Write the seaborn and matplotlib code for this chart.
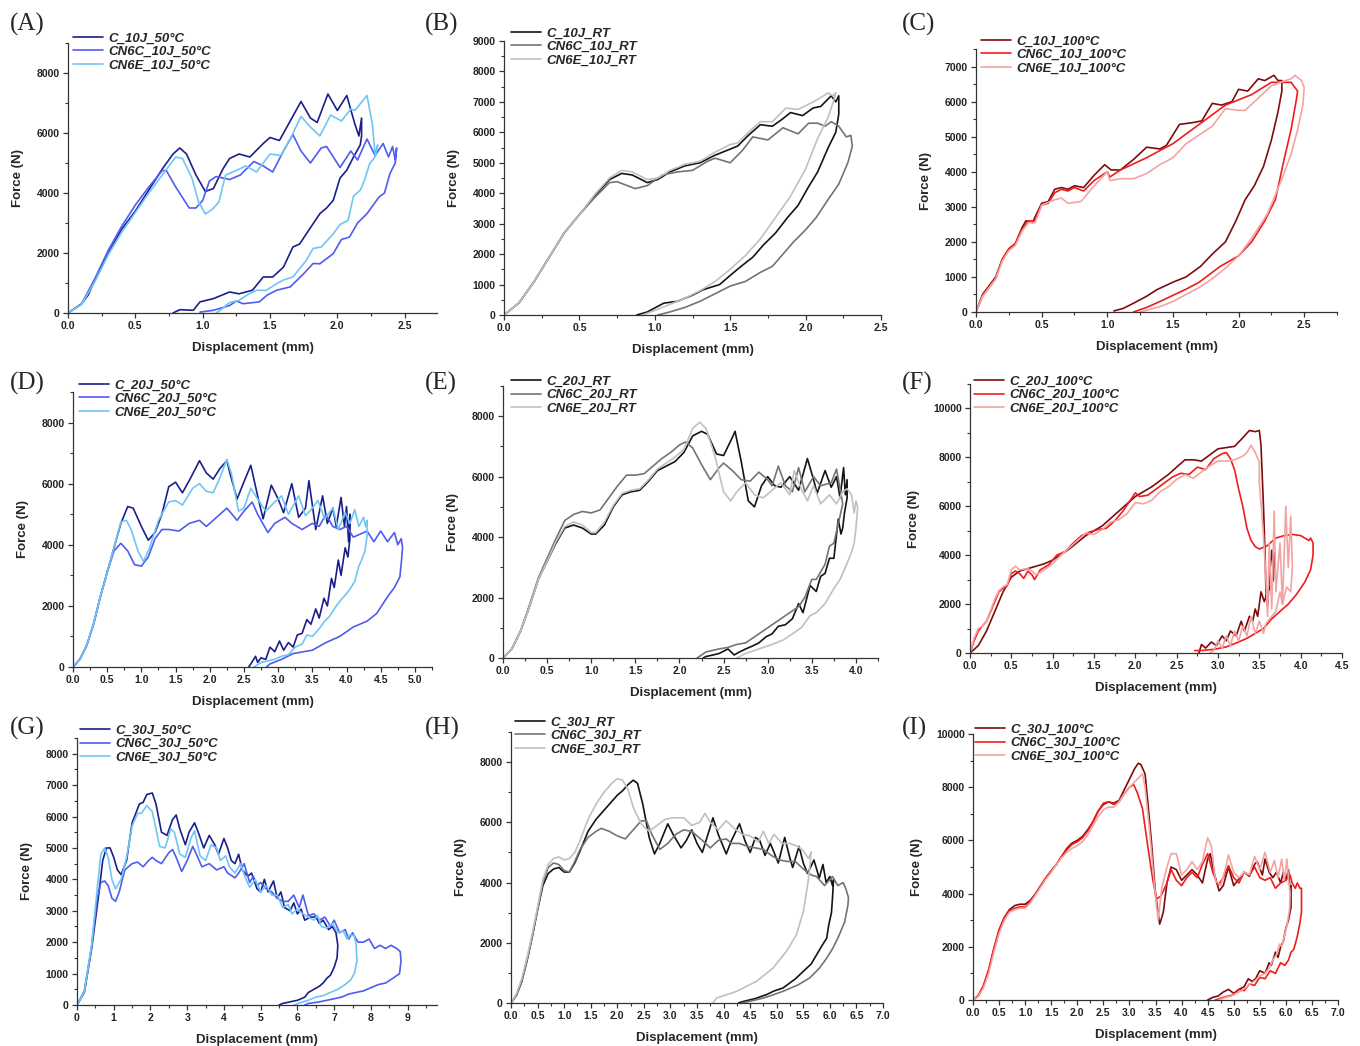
import matplotlib
matplotlib.use("Agg")
import matplotlib.pyplot as plt
import seaborn as sns
import pandas as pd
from matplotlib.ticker import MultipleLocator, AutoMinorLocator

# ===== DATA (displacement mm, force N) =====
# (A) 10 J, 50 C
C_10J_50 = [(0, 0), (0.1, 300), (0.15, 600), (0.2, 1100), (0.3, 2000), (0.4, 2800), (0.5, 3400), (0.6, 4100),
            (0.7, 4800), (0.78, 5300), (0.83, 5500), (0.88, 5300), (0.95, 4600), (1.02, 4050), (1.08, 4150),
            (1.15, 4800), (1.2, 5150), (1.27, 5300), (1.35, 5200), (1.45, 5650), (1.5, 5850), (1.57, 5750),
            (1.65, 6400), (1.73, 7050), (1.8, 6500), (1.85, 6350), (1.93, 7300), (2.0, 6750), (2.07, 7250),
            (2.13, 6300), (2.16, 5900), (2.18, 6500), (2.18, 5900), (2.17, 5600), (2.12, 5200), (2.07, 4760),
            (2.02, 4500), (1.97, 3760), (1.92, 3500), (1.87, 3310), (1.77, 2640), (1.72, 2300), (1.67, 2200),
            (1.6, 1530), (1.52, 1200), (1.45, 1200), (1.37, 760), (1.27, 640), (1.2, 700), (1.08, 480),
            (0.98, 370), (0.93, 90), (0.83, 110), (0.78, 0)]
CN6C_10J_50 = [(0, 0), (0.1, 300), (0.2, 1150), (0.3, 2100), (0.4, 2900), (0.5, 3600), (0.6, 4200), (0.7, 4750),
               (0.73, 4750), (0.8, 4200), (0.9, 3500), (0.95, 3500), (1.0, 3750), (1.05, 4400), (1.1, 4550),
               (1.2, 4450), (1.28, 4600), (1.38, 5050), (1.45, 4900), (1.52, 4700), (1.6, 5400), (1.67, 5950),
               (1.73, 5400), (1.8, 5000), (1.88, 5500), (1.92, 5550), (2.02, 4850), (2.1, 5400), (2.15, 5100),
               (2.22, 5800), (2.28, 5250), (2.34, 5650), (2.38, 5200), (2.41, 5550), (2.43, 5100), (2.44, 5500),
               (2.43, 5000), (2.39, 4640), (2.35, 4000), (2.31, 3870), (2.22, 3310), (2.15, 3000), (2.09, 2530),
               (2.03, 2450), (1.97, 1980), (1.87, 1640), (1.82, 1650), (1.75, 1310), (1.65, 870), (1.55, 760),
               (1.48, 600), (1.42, 370), (1.3, 310), (1.25, 400), (1.2, 250), (1.08, 90), (0.98, 30)]
CN6E_10J_50 = [(0, 0), (0.1, 280), (0.2, 1050), (0.3, 1950), (0.4, 2700), (0.5, 3350), (0.6, 4000), (0.7, 4600),
               (0.8, 5200), (0.85, 5150), (0.92, 4500), (0.97, 3700), (1.02, 3300), (1.07, 3450), (1.12, 3700),
               (1.17, 4600), (1.25, 4750), (1.32, 4900), (1.4, 4700), (1.5, 5300), (1.58, 5250), (1.65, 5800),
               (1.73, 6550), (1.8, 6200), (1.87, 5900), (1.95, 6600), (2.03, 6400), (2.1, 6800), (2.13, 6750),
               (2.22, 7250), (2.26, 6300), (2.28, 5300), (2.3, 5600), (2.28, 5200), (2.24, 4980), (2.2, 4400),
               (2.17, 4090), (2.12, 3900), (2.08, 3090), (2.02, 2950), (1.97, 2640), (1.88, 2200), (1.82, 2150),
               (1.77, 1760), (1.67, 1200), (1.6, 1100), (1.55, 980), (1.47, 750), (1.4, 760), (1.33, 600),
               (1.27, 420), (1.2, 350), (1.13, 90), (1.1, 0)]

# (B) 10 J, RT
C_10J_RT = [(0, 0), (0.1, 400), (0.2, 1100), (0.3, 1900), (0.4, 2700), (0.5, 3300), (0.6, 3900), (0.7, 4450),
            (0.78, 4650), (0.85, 4600), (0.95, 4350), (1.02, 4450), (1.1, 4700), (1.2, 4900), (1.3, 5000),
            (1.4, 5250), (1.5, 5450), (1.55, 5550), (1.62, 5900), (1.7, 6250), (1.78, 6200), (1.85, 6450),
            (1.9, 6650), (1.98, 6550), (2.05, 6800), (2.1, 6850), (2.17, 7200), (2.2, 7000), (2.22, 7200),
            (2.22, 6600), (2.2, 6000), (2.15, 5500), (2.08, 4700), (2.02, 4215), (1.95, 3600), (1.88, 3200),
            (1.8, 2690), (1.72, 2300), (1.65, 1900), (1.57, 1590), (1.5, 1300), (1.43, 1000), (1.32, 830),
            (1.25, 650), (1.15, 450), (1.06, 390), (0.95, 100), (0.88, 0)]
CN6C_10J_RT = [(0, 0), (0.1, 400), (0.2, 1100), (0.3, 1900), (0.4, 2700), (0.5, 3300), (0.6, 3850), (0.7, 4350),
               (0.75, 4380), (0.87, 4150), (0.95, 4250), (1.05, 4600), (1.15, 4700), (1.25, 4750), (1.35, 5050),
               (1.4, 5150), (1.5, 5000), (1.58, 5400), (1.65, 5850), (1.75, 5750), (1.85, 6150), (1.95, 5950),
               (2.02, 6300), (2.08, 6300), (2.13, 6200), (2.17, 6350), (2.22, 6200), (2.27, 5850), (2.3, 5900),
               (2.31, 5550), (2.28, 5000), (2.22, 4300), (2.15, 3800), (2.07, 3200), (2.0, 2800), (1.92, 2400),
               (1.85, 2000), (1.78, 1600), (1.7, 1400), (1.6, 1100), (1.5, 950), (1.4, 700), (1.3, 450),
               (1.2, 250), (1.1, 100), (1.02, 0)]
CN6E_10J_RT = [(0, 0), (0.1, 400), (0.2, 1100), (0.3, 1900), (0.4, 2700), (0.5, 3300), (0.6, 3950), (0.7, 4500),
               (0.78, 4750), (0.85, 4700), (0.95, 4450), (1.02, 4500), (1.1, 4750), (1.2, 4950), (1.3, 5050),
               (1.4, 5350), (1.5, 5600), (1.55, 5650), (1.62, 6000), (1.7, 6350), (1.78, 6350), (1.87, 6800),
               (1.95, 6750), (2.05, 7000), (2.12, 7200), (2.15, 7300), (2.18, 7200), (2.2, 7300), (2.19, 7100),
               (2.15, 6500), (2.08, 5800), (2.0, 4800), (1.9, 3900), (1.8, 3200), (1.7, 2500), (1.6, 1950),
               (1.5, 1500), (1.4, 1100), (1.3, 800), (1.2, 550), (1.1, 350), (1.0, 150), (0.92, 0)]

# (C) 10 J, 100 C
C_10J_100 = [(0, 0), (0.05, 500), (0.1, 750), (0.15, 1000), (0.2, 1500), (0.25, 1800), (0.3, 1950), (0.35, 2400),
             (0.38, 2600), (0.43, 2550), (0.5, 3100), (0.55, 3150), (0.6, 3500), (0.65, 3550), (0.7, 3500),
             (0.75, 3600), (0.82, 3550), (0.9, 3900), (0.98, 4200), (1.03, 4050), (1.1, 4050), (1.2, 4350),
             (1.3, 4700), (1.4, 4650), (1.45, 4750), (1.5, 5050), (1.55, 5350), (1.65, 5400), (1.72, 5450),
             (1.8, 5950), (1.87, 5900), (1.95, 6000), (2.0, 6350), (2.07, 6300), (2.15, 6650), (2.2, 6600),
             (2.27, 6750), (2.3, 6600), (2.33, 6600), (2.33, 6300), (2.3, 5700), (2.25, 4900), (2.19, 4150),
             (2.12, 3600), (2.05, 3200), (1.98, 2600), (1.9, 2000), (1.8, 1650), (1.71, 1300), (1.6, 1000),
             (1.5, 850), (1.38, 640), (1.3, 450), (1.2, 250), (1.12, 100), (1.05, 30)]
CN6C_10J_100 = [(0, 0), (0.05, 450), (0.1, 700), (0.15, 950), (0.2, 1500), (0.25, 1800), (0.3, 1950), (0.35, 2350),
                (0.4, 2600), (0.45, 2600), (0.5, 3050), (0.55, 3100), (0.6, 3400), (0.65, 3500), (0.7, 3450),
                (0.75, 3550), (0.82, 3450), (0.9, 3750), (1.0, 4000), (1.02, 3850), (1.1, 4050), (1.3, 4400),
                (1.5, 4800), (1.7, 5350), (1.9, 5900), (2.1, 6200), (2.25, 6550), (2.35, 6550), (2.4, 6550),
                (2.45, 6300), (2.44, 6050), (2.4, 5200), (2.35, 4400), (2.28, 3200), (2.2, 2600), (2.1, 2000),
                (2.0, 1600), (1.86, 1300), (1.7, 850), (1.6, 650), (1.43, 350), (1.3, 130), (1.2, 0)]
CN6E_10J_100 = [(0, 0), (0.05, 450), (0.1, 700), (0.15, 950), (0.2, 1450), (0.25, 1750), (0.3, 1900), (0.35, 2300),
                (0.4, 2550), (0.45, 2550), (0.5, 3050), (0.6, 3200), (0.65, 3250), (0.7, 3100), (0.8, 3150),
                (0.9, 3600), (1.0, 4000), (1.02, 3750), (1.1, 3800), (1.2, 3800), (1.3, 3950), (1.4, 4200),
                (1.5, 4400), (1.6, 4800), (1.7, 5050), (1.8, 5300), (1.9, 5800), (2.0, 5750), (2.05, 5750),
                (2.15, 6100), (2.25, 6450), (2.32, 6550), (2.4, 6650), (2.43, 6750), (2.48, 6600), (2.5, 6400),
                (2.49, 5900), (2.45, 5200), (2.4, 4500), (2.32, 3700), (2.22, 2800), (2.1, 2100), (2.0, 1600),
                (1.9, 1250), (1.8, 950), (1.7, 700), (1.6, 500), (1.5, 300), (1.4, 150), (1.3, 50), (1.25, 0)]

# (D) 20 J, 50 C
C_20J_50 = [(0, 0), (0.1, 250), (0.2, 700), (0.3, 1400), (0.4, 2300), (0.5, 3100), (0.6, 3900), (0.7, 4700),
            (0.8, 5250), (0.88, 5200), (1.0, 4600), (1.1, 4150), (1.2, 4400), (1.3, 5000), (1.4, 5900),
            (1.5, 6050), (1.6, 5700), (1.7, 6100), (1.85, 6750), (1.95, 6350), (2.05, 6150), (2.15, 6500),
            (2.25, 6750), (2.3, 6300), (2.4, 5500), (2.48, 5950), (2.6, 6600), (2.7, 5600), (2.78, 4850),
            (2.9, 5950), (3.0, 5500), (3.08, 5050), (3.2, 6000), (3.3, 4900), (3.4, 5200), (3.45, 6100),
            (3.55, 4500), (3.65, 5600), (3.72, 4700), (3.8, 5200), (3.85, 4600), (3.92, 5550), (3.97, 4600),
            (4.0, 5250), (4.03, 4100), (4.05, 5000), (4.05, 4200), (4.02, 3600), (3.98, 3900), (3.92, 3000),
            (3.88, 3500), (3.82, 2600), (3.78, 2900), (3.72, 2000), (3.67, 2250), (3.6, 1600), (3.55, 1900),
            (3.48, 1400), (3.42, 1550), (3.35, 1100), (3.28, 1050), (3.22, 650), (3.15, 800), (3.08, 550),
            (3.02, 850), (2.95, 500), (2.88, 650), (2.82, 250), (2.75, 300), (2.7, 150), (2.67, 350),
            (2.6, 100), (2.57, 0)]
CN6C_20J_50 = [(0, 0), (0.1, 250), (0.2, 700), (0.3, 1400), (0.4, 2300), (0.5, 3100), (0.6, 3800), (0.7, 4050),
               (0.8, 3800), (0.9, 3350), (1.0, 3300), (1.1, 3600), (1.2, 4200), (1.3, 4500), (1.4, 4500),
               (1.55, 4450), (1.7, 4700), (1.85, 4800), (1.95, 4600), (2.1, 4900), (2.25, 5200), (2.4, 4800),
               (2.5, 5100), (2.62, 5400), (2.7, 5000), (2.85, 4400), (2.95, 4700), (3.1, 4900), (3.2, 4700),
               (3.35, 4500), (3.5, 4700), (3.6, 4600), (3.7, 5000), (3.8, 4600), (3.9, 4500), (4.0, 4600),
               (4.1, 4250), (4.2, 4350), (4.3, 4450), (4.4, 4100), (4.5, 4450), (4.6, 4100), (4.7, 4400),
               (4.75, 4000), (4.8, 4200), (4.82, 3900), (4.8, 3400), (4.78, 2950), (4.7, 2600), (4.6, 2300),
               (4.44, 1750), (4.3, 1500), (4.1, 1310), (3.9, 1000), (3.7, 800), (3.5, 550), (3.22, 440),
               (3.05, 250), (2.88, 100), (2.83, 0)]
CN6E_20J_50 = [(0, 0), (0.1, 250), (0.2, 700), (0.3, 1400), (0.4, 2300), (0.5, 3100), (0.6, 3900), (0.7, 4750),
               (0.78, 4800), (0.85, 4500), (0.95, 3800), (1.03, 3450), (1.12, 3900), (1.25, 4800), (1.4, 5400),
               (1.5, 5450), (1.6, 5300), (1.75, 5850), (1.85, 6000), (1.95, 5750), (2.05, 5700), (2.15, 6200),
               (2.25, 6800), (2.32, 6300), (2.42, 5100), (2.5, 5200), (2.6, 5850), (2.7, 5500), (2.82, 5100),
               (2.95, 5400), (3.05, 5600), (3.15, 5000), (3.3, 5600), (3.4, 4950), (3.5, 5200), (3.58, 5450),
               (3.68, 4850), (3.8, 5200), (3.88, 4500), (3.98, 5050), (4.05, 4700), (4.12, 5150), (4.18, 4600),
               (4.25, 4900), (4.28, 4600), (4.3, 4800), (4.3, 4300), (4.27, 3800), (4.22, 3500), (4.18, 3300),
               (4.12, 2800), (4.05, 2550), (4.0, 2400), (3.92, 2200), (3.85, 2000), (3.75, 1650), (3.68, 1500),
               (3.6, 1250), (3.5, 1000), (3.42, 1050), (3.35, 750), (3.25, 650), (3.15, 400), (3.05, 350),
               (2.95, 250), (2.85, 200), (2.75, 150), (2.65, 0)]

# (E) 20 J, RT
C_20J_RT = [(0, 0), (0.1, 300), (0.2, 900), (0.3, 1700), (0.4, 2600), (0.5, 3200), (0.6, 3800), (0.7, 4300),
            (0.8, 4400), (0.9, 4300), (1.0, 4100), (1.05, 4100), (1.15, 4400), (1.25, 5000), (1.35, 5400),
            (1.45, 5500), (1.55, 5550), (1.65, 5850), (1.75, 6200), (1.85, 6350), (1.95, 6500), (2.05, 6800),
            (2.15, 7350), (2.25, 7500), (2.32, 7400), (2.42, 6750), (2.5, 6700), (2.6, 7300), (2.63, 7500),
            (2.7, 6500), (2.78, 5200), (2.85, 5000), (2.93, 5700), (3.0, 6000), (3.08, 5700), (3.15, 5650),
            (3.25, 6000), (3.35, 5550), (3.45, 6600), (3.52, 5900), (3.56, 5450), (3.65, 6200), (3.72, 5650),
            (3.78, 6000), (3.82, 5300), (3.86, 6300), (3.88, 5400), (3.9, 5900), (3.9, 5300), (3.87, 4800),
            (3.85, 4300), (3.83, 4100), (3.8, 4600), (3.75, 3300), (3.7, 3300), (3.65, 2800), (3.6, 2700),
            (3.55, 2200), (3.48, 2400), (3.4, 1500), (3.35, 1800), (3.28, 1300), (3.2, 1100), (3.12, 1050),
            (3.05, 800), (2.98, 700), (2.9, 500), (2.83, 400), (2.75, 300), (2.68, 200), (2.62, 100),
            (2.55, 300), (2.45, 150), (2.38, 100), (2.3, 50), (2.27, 0)]
CN6C_20J_RT = [(0, 0), (0.1, 300), (0.2, 900), (0.3, 1750), (0.4, 2650), (0.5, 3300), (0.6, 3950), (0.7, 4550),
               (0.8, 4750), (0.9, 4850), (1.0, 4800), (1.1, 4900), (1.2, 5300), (1.3, 5700), (1.4, 6050),
               (1.5, 6050), (1.6, 6100), (1.7, 6350), (1.8, 6600), (1.9, 6800), (2.0, 7050), (2.07, 7150),
               (2.15, 6950), (2.25, 6400), (2.35, 5900), (2.45, 6300), (2.5, 6450), (2.6, 6200), (2.7, 5900),
               (2.8, 5850), (2.9, 6150), (3.0, 5900), (3.05, 5700), (3.12, 6350), (3.2, 5700), (3.28, 5500),
               (3.35, 6300), (3.42, 5500), (3.52, 6000), (3.6, 5700), (3.72, 5800), (3.78, 6250), (3.82, 5600),
               (3.85, 5100), (3.82, 4700), (3.75, 3800), (3.7, 3700), (3.65, 3100), (3.55, 2600), (3.5, 2600),
               (3.42, 2000), (3.35, 1700), (3.25, 1500), (3.15, 1300), (3.05, 1100), (2.95, 900), (2.85, 700),
               (2.75, 500), (2.65, 450), (2.55, 350), (2.45, 300), (2.3, 200), (2.2, 0)]
CN6E_20J_RT = [(0, 0), (0.1, 300), (0.2, 900), (0.3, 1700), (0.4, 2600), (0.5, 3200), (0.6, 3850), (0.7, 4350),
               (0.8, 4500), (0.9, 4400), (1.0, 4150), (1.05, 4150), (1.15, 4500), (1.25, 5050), (1.35, 5450),
               (1.45, 5550), (1.55, 5600), (1.65, 5900), (1.75, 6250), (1.85, 6450), (1.95, 6650), (2.05, 6900),
               (2.15, 7600), (2.23, 7800), (2.3, 7600), (2.4, 6700), (2.5, 5500), (2.58, 5200), (2.65, 5500),
               (2.75, 5800), (2.85, 5400), (2.95, 5300), (3.05, 5550), (3.15, 5800), (3.25, 5400), (3.3, 6200),
               (3.38, 5600), (3.45, 5200), (3.52, 5700), (3.6, 5100), (3.7, 5400), (3.78, 5100), (3.85, 5500),
               (3.9, 5600), (3.95, 5400), (3.98, 4800), (4.0, 5200), (4.02, 5000), (4.0, 4300), (3.98, 3800),
               (3.95, 3500), (3.88, 3000), (3.82, 2600), (3.75, 2300), (3.65, 1800), (3.55, 1500), (3.48, 1400),
               (3.38, 1000), (3.28, 800), (3.18, 600), (3.05, 450), (2.95, 350), (2.85, 250), (2.75, 150),
               (2.65, 0)]

# (F) 20 J, 100 C
C_20J_100 = [(0, 0), (0.1, 300), (0.2, 900), (0.3, 1700), (0.4, 2500), (0.5, 3100), (0.6, 3350), (0.7, 3450),
             (0.8, 3550), (0.9, 3650), (1.0, 3800), (1.2, 4250), (1.4, 4800), (1.6, 5200), (1.8, 5800),
             (2.0, 6400), (2.2, 6800), (2.4, 7300), (2.5, 7600), (2.6, 7900), (2.7, 7900), (2.8, 7850),
             (2.9, 8100), (3.0, 8350), (3.1, 8400), (3.2, 8450), (3.3, 8800), (3.38, 9100), (3.45, 9050),
             (3.5, 9100), (3.52, 8500), (3.55, 6000), (3.57, 4000), (3.58, 2500), (3.6, 1900), (3.62, 3000),
             (3.65, 4200), (3.67, 3500), (3.68, 4100), (3.67, 3000), (3.63, 2700), (3.6, 2500), (3.56, 2100),
             (3.52, 2500), (3.48, 1500), (3.45, 1800), (3.42, 1300), (3.38, 1500), (3.32, 900), (3.28, 1300),
             (3.22, 700), (3.15, 900), (3.1, 500), (3.05, 700), (2.98, 300), (2.92, 450), (2.85, 200),
             (2.8, 350), (2.77, 0)]
CN6C_20J_100 = [(0, 0), (0.05, 500), (0.1, 900), (0.15, 1100), (0.2, 1300), (0.3, 2100), (0.35, 2500),
                (0.4, 2650), (0.45, 2750), (0.5, 3250), (0.55, 3350), (0.6, 3250), (0.65, 3050), (0.7, 3350),
                (0.75, 3200), (0.78, 3000), (0.85, 3400), (0.95, 3600), (1.05, 4000), (1.15, 4150), (1.25, 4500),
                (1.35, 4800), (1.45, 4950), (1.55, 5050), (1.65, 5100), (1.75, 5400), (1.85, 5800), (1.95, 6300),
                (2.0, 6550), (2.05, 6400), (2.15, 6450), (2.25, 6700), (2.35, 6950), (2.45, 7200), (2.55, 7350),
                (2.65, 7300), (2.75, 7600), (2.85, 7500), (2.95, 7950), (3.05, 8150), (3.1, 8200), (3.15, 7950),
                (3.2, 7500), (3.25, 6700), (3.3, 6000), (3.35, 5100), (3.4, 4600), (3.45, 4350), (3.5, 4250),
                (3.6, 4400), (3.7, 4700), (3.8, 4800), (3.9, 4850), (4.0, 4800), (4.05, 4700), (4.1, 4600),
                (4.12, 4700), (4.15, 4500), (4.15, 4000), (4.12, 3400), (4.05, 2900), (3.95, 2400), (3.85, 2000),
                (3.75, 1700), (3.65, 1400), (3.55, 1000), (3.45, 800), (3.35, 600), (3.25, 450), (3.1, 250),
                (2.95, 150), (2.8, 100), (2.72, 100)]
CN6E_20J_100 = [(0, 0), (0.05, 600), (0.1, 1000), (0.15, 1100), (0.2, 1300), (0.3, 2200), (0.35, 2550),
                (0.4, 2700), (0.45, 2800), (0.5, 3400), (0.55, 3550), (0.6, 3400), (0.7, 3450), (0.75, 3350),
                (0.8, 3200), (0.9, 3400), (1.0, 3650), (1.1, 4000), (1.2, 4300), (1.3, 4600), (1.4, 4900),
                (1.5, 4850), (1.6, 5050), (1.7, 5350), (1.8, 5450), (1.9, 5700), (2.0, 6150), (2.1, 6100),
                (2.2, 6250), (2.3, 6600), (2.4, 6800), (2.5, 7100), (2.6, 7300), (2.7, 7150), (2.8, 7400),
                (2.9, 7650), (3.0, 7850), (3.1, 7850), (3.2, 7900), (3.3, 8050), (3.35, 8200), (3.4, 8500),
                (3.45, 8200), (3.5, 7800), (3.5, 7000), (3.55, 4800), (3.58, 3000), (3.6, 1500), (3.62, 4500),
                (3.65, 1800), (3.68, 5800), (3.7, 2500), (3.75, 4500), (3.78, 2000), (3.82, 6000), (3.85, 3500),
                (3.88, 5600), (3.9, 3500), (3.88, 2500), (3.83, 2700), (3.78, 2000), (3.75, 2500), (3.7, 1700),
                (3.65, 1500), (3.58, 1200), (3.55, 800), (3.5, 1300), (3.45, 800), (3.4, 1500), (3.35, 700),
                (3.3, 1100), (3.25, 500), (3.2, 900), (3.15, 300), (3.1, 700), (3.05, 200), (3.0, 500),
                (2.95, 100), (2.9, 0)]

# (G) 30 J, 50 C
C_30J_50 = [(0, 0), (0.2, 400), (0.4, 1800), (0.6, 3600), (0.7, 4600), (0.8, 5000), (0.9, 5000), (1.0, 4700),
            (1.1, 4300), (1.2, 4150), (1.35, 4600), (1.5, 5800), (1.7, 6400), (1.8, 6450), (1.9, 6700),
            (2.05, 6750), (2.15, 6400), (2.3, 5500), (2.45, 5400), (2.6, 5900), (2.7, 6050), (2.8, 5600),
            (2.95, 5100), (3.05, 5500), (3.2, 5800), (3.3, 5500), (3.45, 5000), (3.6, 5400), (3.75, 5100),
            (3.85, 4800), (4.0, 5300), (4.1, 5000), (4.2, 4600), (4.3, 4500), (4.4, 4800), (4.5, 4300),
            (4.65, 4100), (4.75, 4200), (4.9, 3700), (5.0, 3600), (5.1, 4000), (5.2, 3600), (5.35, 3950),
            (5.45, 3400), (5.55, 3600), (5.65, 3100), (5.8, 3000), (5.9, 3250), (6.0, 2900), (6.1, 3050),
            (6.2, 2700), (6.35, 2800), (6.5, 2800), (6.6, 2600), (6.7, 2700), (6.85, 2400), (6.95, 2500),
            (7.05, 2300), (7.1, 1900), (7.08, 1500), (7.0, 1200), (6.9, 950), (6.8, 850), (6.7, 700),
            (6.6, 600), (6.45, 500), (6.3, 400), (6.2, 250), (6.0, 150), (5.8, 100), (5.6, 50), (5.5, 0)]
CN6C_30J_50 = [(0, 0), (0.2, 450), (0.4, 1900), (0.55, 3400), (0.65, 3900), (0.75, 3950), (0.85, 3800),
               (0.95, 3400), (1.05, 3300), (1.15, 3600), (1.3, 4300), (1.5, 4500), (1.65, 4550), (1.8, 4400),
               (1.95, 4600), (2.05, 4700), (2.15, 4600), (2.3, 4500), (2.5, 4850), (2.6, 4950), (2.7, 4700),
               (2.85, 4250), (3.0, 4600), (3.15, 5050), (3.25, 4800), (3.4, 4400), (3.6, 4500), (3.8, 4300),
               (4.0, 4400), (4.1, 4200), (4.3, 4050), (4.4, 4200), (4.55, 4500), (4.7, 3900), (4.8, 4100),
               (4.9, 3800), (5.0, 3900), (5.15, 3700), (5.3, 3600), (5.45, 3400), (5.6, 3300), (5.75, 3300),
               (5.9, 3500), (6.05, 3100), (6.15, 3500), (6.3, 2850), (6.45, 2900), (6.6, 2700), (6.75, 2800),
               (6.9, 2500), (7.0, 2700), (7.15, 2300), (7.3, 2400), (7.4, 2100), (7.5, 2300), (7.65, 2000),
               (7.8, 2000), (7.95, 2100), (8.1, 1800), (8.25, 1900), (8.4, 1800), (8.55, 1900), (8.7, 1800),
               (8.8, 1700), (8.82, 1400), (8.78, 1000), (8.6, 850), (8.4, 700), (8.2, 650), (8.0, 550),
               (7.8, 450), (7.6, 400), (7.4, 350), (7.2, 250), (7.0, 200), (6.8, 150), (6.6, 100), (6.3, 50),
               (6.2, 0)]
CN6E_30J_50 = [(0, 0), (0.2, 420), (0.4, 1900), (0.55, 3700), (0.65, 4800), (0.75, 5000), (0.85, 4700),
               (0.95, 4000), (1.05, 3700), (1.2, 4000), (1.35, 4700), (1.5, 5700), (1.65, 6100), (1.75, 6100),
               (1.9, 6350), (2.05, 6150), (2.15, 5600), (2.25, 5050), (2.4, 5000), (2.55, 5600), (2.65, 5500),
               (2.8, 4800), (2.95, 4700), (3.1, 5300), (3.2, 5550), (3.35, 4750), (3.5, 4600), (3.65, 5100),
               (3.8, 5000), (3.9, 4600), (4.05, 4750), (4.15, 4400), (4.3, 4200), (4.45, 4500), (4.6, 4000),
               (4.7, 3750), (4.85, 4000), (5.0, 3600), (5.15, 3800), (5.3, 3500), (5.45, 3500), (5.6, 3100),
               (5.75, 3200), (5.85, 2900), (6.0, 3050), (6.15, 2900), (6.3, 2800), (6.45, 2700), (6.55, 2850),
               (6.65, 2500), (6.8, 2450), (6.95, 2600), (7.1, 2300), (7.25, 2350), (7.35, 2100), (7.45, 2250),
               (7.55, 2200), (7.6, 1900), (7.62, 1400), (7.55, 1000), (7.45, 800), (7.3, 650), (7.1, 500),
               (6.9, 400), (6.7, 300), (6.5, 250), (6.3, 150), (6.1, 80), (5.9, 0)]

# (H) 30 J, RT
C_30J_RT = [(0, 0), (0.1, 250), (0.2, 700), (0.3, 1400), (0.4, 2200), (0.5, 3100), (0.6, 3900), (0.7, 4300),
            (0.8, 4450), (0.9, 4500), (1.0, 4350), (1.1, 4350), (1.2, 4650), (1.3, 5050), (1.45, 5700),
            (1.6, 6100), (1.8, 6500), (2.0, 6900), (2.1, 7050), (2.2, 7250), (2.3, 7400), (2.38, 7300),
            (2.48, 6600), (2.6, 5500), (2.7, 4950), (2.8, 5300), (2.95, 5950), (3.05, 5600), (3.2, 5150),
            (3.3, 5400), (3.4, 5750), (3.5, 5300), (3.6, 5000), (3.75, 5850), (3.8, 6150), (3.9, 5600),
            (4.05, 4950), (4.15, 5400), (4.3, 5950), (4.4, 5400), (4.5, 5000), (4.6, 5500), (4.68, 5400),
            (4.78, 4900), (4.88, 5300), (4.95, 5000), (5.03, 4650), (5.15, 5500), (5.25, 4800), (5.3, 4500),
            (5.42, 5200), (5.5, 4650), (5.58, 4300), (5.7, 4750), (5.8, 4150), (5.87, 4600), (5.93, 4000),
            (6.0, 4200), (6.05, 3900), (6.07, 4100), (6.05, 3500), (6.03, 3000), (5.98, 2600), (5.94, 2150),
            (5.85, 1900), (5.75, 1600), (5.65, 1300), (5.5, 1050), (5.35, 800), (5.12, 500), (4.95, 400),
            (4.81, 280), (4.6, 150), (4.37, 50), (4.28, 0)]
CN6C_30J_RT = [(0, 0), (0.1, 250), (0.2, 700), (0.3, 1400), (0.4, 2200), (0.5, 3100), (0.6, 4000), (0.7, 4500),
               (0.8, 4650), (0.9, 4600), (1.0, 4400), (1.1, 4350), (1.2, 4700), (1.3, 5100), (1.45, 5500),
               (1.6, 5700), (1.7, 5800), (1.85, 5700), (2.0, 5550), (2.15, 5450), (2.3, 5750), (2.45, 6050),
               (2.55, 6050), (2.65, 5600), (2.8, 5100), (2.95, 5300), (3.1, 5600), (3.25, 5750), (3.4, 5700),
               (3.6, 5400), (3.75, 5150), (3.9, 5400), (4.05, 5450), (4.15, 5300), (4.3, 5300), (4.45, 5200),
               (4.6, 5150), (4.75, 5100), (4.9, 4900), (5.05, 4750), (5.2, 4700), (5.35, 4700), (5.5, 4450),
               (5.65, 4250), (5.75, 4200), (5.9, 3900), (6.05, 4200), (6.15, 3900), (6.25, 4000), (6.3, 3800),
               (6.35, 3500), (6.34, 3250), (6.28, 2700), (6.15, 2150), (6.05, 1800), (5.94, 1490), (5.8, 1150),
               (5.62, 830), (5.4, 600), (5.12, 390), (4.9, 250), (4.75, 165), (4.5, 60), (4.35, 0)]
CN6E_30J_RT = [(0, 0), (0.1, 300), (0.2, 800), (0.3, 1500), (0.4, 2300), (0.5, 3200), (0.6, 4100), (0.7, 4600),
               (0.8, 4800), (0.9, 4850), (1.0, 4750), (1.1, 4800), (1.2, 5000), (1.3, 5400), (1.45, 6100),
               (1.6, 6600), (1.75, 7000), (1.9, 7300), (2.0, 7450), (2.1, 7400), (2.2, 7100), (2.3, 6500),
               (2.45, 5950), (2.6, 5700), (2.75, 5900), (2.9, 6100), (3.05, 6150), (3.25, 6150), (3.4, 5900),
               (3.55, 6000), (3.65, 6300), (3.75, 6000), (3.9, 5750), (4.05, 6050), (4.2, 5800), (4.35, 5600),
               (4.5, 5550), (4.65, 5350), (4.75, 5700), (4.85, 5300), (4.95, 5600), (5.1, 5300), (5.25, 5300),
               (5.4, 5200), (5.5, 5050), (5.6, 4800), (5.65, 5020), (5.62, 4500), (5.59, 4025), (5.5, 3030),
               (5.37, 2260), (5.18, 1710), (4.93, 1160), (4.62, 720), (4.25, 390), (3.87, 165), (3.8, 0)]

# (I) 30 J, 100 C
C_30J_100 = [(0, 0), (0.1, 150), (0.2, 500), (0.3, 1100), (0.4, 1900), (0.5, 2600), (0.6, 3100), (0.7, 3400),
             (0.8, 3550), (0.9, 3600), (1.0, 3600), (1.1, 3750), (1.2, 4000), (1.3, 4300), (1.4, 4600),
             (1.5, 4850), (1.6, 5100), (1.7, 5400), (1.8, 5700), (1.9, 5900), (2.0, 6000), (2.1, 6150),
             (2.2, 6400), (2.3, 6700), (2.4, 7100), (2.5, 7350), (2.6, 7450), (2.7, 7400), (2.8, 7500),
             (2.9, 7900), (3.0, 8300), (3.1, 8700), (3.17, 8900), (3.22, 8850), (3.3, 8500), (3.35, 7500),
             (3.42, 6000), (3.5, 4000), (3.58, 2850), (3.65, 3300), (3.72, 4400), (3.8, 5000), (3.9, 4900),
             (4.0, 4500), (4.1, 4700), (4.2, 4900), (4.3, 4700), (4.4, 4400), (4.5, 5300), (4.55, 5500),
             (4.62, 4800), (4.72, 4100), (4.8, 4300), (4.9, 5000), (5.0, 4300), (5.1, 4550), (5.2, 4800),
             (5.3, 4650), (5.4, 5100), (5.45, 5200), (5.55, 4700), (5.6, 5300), (5.68, 4800), (5.75, 4600),
             (5.82, 4800), (5.9, 4400), (5.95, 4800), (6.0, 4500), (6.05, 4900), (6.08, 4200), (6.1, 4300),
             (6.1, 3500), (6.05, 3000), (6.0, 2700), (5.95, 2200), (5.9, 2000), (5.85, 1600), (5.8, 1800),
             (5.72, 1300), (5.68, 1400), (5.6, 1000), (5.5, 1100), (5.42, 800), (5.35, 700), (5.28, 800),
             (5.2, 500), (5.1, 400), (5.0, 250), (4.9, 400), (4.8, 300), (4.7, 150), (4.6, 100), (4.5, 0)]
CN6C_30J_100 = [(0, 0), (0.1, 170), (0.2, 550), (0.3, 1150), (0.4, 1950), (0.5, 2650), (0.6, 3100), (0.7, 3350),
                (0.8, 3450), (0.9, 3500), (1.0, 3500), (1.1, 3700), (1.2, 4000), (1.3, 4300), (1.4, 4600),
                (1.5, 4850), (1.6, 5100), (1.7, 5400), (1.8, 5650), (1.9, 5850), (2.0, 5950), (2.1, 6100),
                (2.2, 6350), (2.3, 6700), (2.4, 7100), (2.5, 7400), (2.6, 7450), (2.7, 7350), (2.8, 7450),
                (2.9, 7750), (3.0, 8000), (3.08, 8100), (3.15, 7800), (3.25, 7200), (3.35, 5800), (3.45, 4500),
                (3.52, 3800), (3.6, 3900), (3.7, 4300), (3.8, 4900), (3.9, 4500), (4.0, 4300), (4.1, 4600),
                (4.2, 4800), (4.3, 4600), (4.4, 5100), (4.5, 5500), (4.6, 4800), (4.7, 4300), (4.8, 4600),
                (4.9, 5050), (5.0, 4600), (5.1, 4400), (5.2, 4800), (5.3, 4700), (5.4, 5000), (5.5, 4600),
                (5.6, 4500), (5.7, 4600), (5.8, 4200), (5.9, 4400), (6.0, 4500), (6.08, 4700), (6.12, 4400),
                (6.18, 4200), (6.22, 4400), (6.27, 4200), (6.3, 4200), (6.3, 3300), (6.27, 2900), (6.22, 2400),
                (6.18, 2100), (6.15, 1900), (6.1, 1800), (6.05, 1500), (5.98, 1300), (5.9, 1400), (5.8, 1000),
                (5.7, 1100), (5.6, 800), (5.5, 850), (5.4, 550), (5.3, 600), (5.2, 350), (5.1, 400), (5.0, 200),
                (4.9, 150), (4.8, 100), (4.65, 0)]
CN6E_30J_100 = [(0, 0), (0.1, 130), (0.2, 450), (0.3, 1000), (0.4, 1800), (0.5, 2500), (0.6, 3000), (0.7, 3300),
                (0.8, 3400), (0.9, 3450), (1.0, 3450), (1.1, 3650), (1.2, 3950), (1.3, 4250), (1.4, 4550),
                (1.5, 4800), (1.6, 5100), (1.7, 5350), (1.8, 5550), (1.9, 5700), (2.0, 5800), (2.1, 5950),
                (2.2, 6200), (2.3, 6550), (2.4, 6900), (2.5, 7150), (2.6, 7250), (2.7, 7250), (2.8, 7450),
                (2.9, 7750), (3.0, 8000), (3.1, 8200), (3.2, 8400), (3.25, 8500), (3.3, 8000), (3.38, 6500),
                (3.48, 4300), (3.55, 3000), (3.62, 4200), (3.72, 5000), (3.8, 5500), (3.9, 5500), (4.0, 4700),
                (4.1, 4900), (4.2, 5200), (4.3, 4900), (4.4, 5200), (4.5, 6100), (4.57, 5800), (4.65, 4500),
                (4.75, 4300), (4.85, 5000), (4.9, 5450), (5.0, 4800), (5.1, 4600), (5.2, 4800), (5.3, 4700),
                (5.4, 5400), (5.5, 4900), (5.6, 5550), (5.7, 4800), (5.78, 5250), (5.85, 4600), (5.92, 5300),
                (5.97, 4500), (6.02, 5300), (6.05, 4600), (6.08, 4000), (6.07, 3400), (6.02, 2800), (5.97, 2400),
                (5.92, 2000), (5.88, 2100), (5.82, 1700), (5.75, 1500), (5.68, 1200), (5.6, 1000), (5.5, 900),
                (5.42, 750), (5.35, 650), (5.25, 500), (5.15, 350), (5.05, 250), (4.95, 150), (4.85, 100),
                (4.7, 0)]

SAMPLES = ["C", "CN6C", "CN6E"]
COLORS_50 = ["#1b1f8a", "#4f5cf0", "#6fc6f4"]
COLORS_RT = ["#141414", "#747474", "#c0c0c0"]
COLORS_100 = ["#7e0c0c", "#f01c1c", "#f4a3a3"]

# panel: label, curves, suffix, colours, xlim, xstep, ylim, ystep, axes box (px), legend anchor (px)
PANELS = [
    ("(A)", [C_10J_50, CN6C_10J_50, CN6E_10J_50], "_10J_50°C", COLORS_50, 2.74, 0.5, 9000, 2000,
     (68, 43, 437, 313), (73, 52)),
    ("(B)", [C_10J_RT, CN6C_10J_RT, CN6E_10J_RT], "_10J_RT", COLORS_RT, 2.5, 0.5, 9000, 1000,
     (504, 41, 881, 315), (511, 47)),
    ("(C)", [C_10J_100, CN6C_10J_100, CN6E_10J_100], "_10J_100°C", COLORS_100, 2.75, 0.5, 7500, 1000,
     (976, 49, 1337, 312), (981, 55)),
    ("(D)", [C_20J_50, CN6C_20J_50, CN6E_20J_50], "_20J_50°C", COLORS_50, 5.25, 0.5, 9000, 2000,
     (73, 392, 432, 667), (79, 399)),
    ("(E)", [C_20J_RT, CN6C_20J_RT, CN6E_20J_RT], "_20J_RT", COLORS_RT, 4.25, 0.5, 9000, 2000,
     (503, 386, 878, 658), (511, 395)),
    ("(F)", [C_20J_100, CN6C_20J_100, CN6E_20J_100], "_20J_100°C", COLORS_100, 4.5, 0.5, 11000, 2000,
     (970, 384, 1342, 653), (974, 395)),
    ("(G)", [C_30J_50, CN6C_30J_50, CN6E_30J_50], "_30J_50°C", COLORS_50, 9.8, 1, 8500, 1000,
     (77, 738, 437, 1005), (80, 744)),
    ("(H)", [C_30J_RT, CN6C_30J_RT, CN6E_30J_RT], "_30J_RT", COLORS_RT, 7.0, 0.5, 9000, 2000,
     (511, 732, 883, 1003), (515, 736)),
    ("(I)", [C_30J_100, CN6C_30J_100, CN6E_30J_100], "_30J_100°C", COLORS_100, 7.0, 0.5, 10000, 2000,
     (973, 734, 1338, 1000), (975, 743)),
]
LABEL_POS = [(10, 24), (425, 24), (902, 24), (10, 383), (425, 383), (902, 383), (10, 728), (425, 728), (902, 728)]

W, H = 1360, 1046

sns.set_style("ticks")
plt.rcParams['font.family'] = ['Liberation Sans', 'DejaVu Sans']
plt.rcParams['font.weight'] = 'bold'
plt.rcParams['axes.labelweight'] = 'bold'
plt.rcParams['axes.edgecolor'] = '#333333'
plt.rcParams['axes.linewidth'] = 0.9
plt.rcParams['xtick.color'] = '#333333'
plt.rcParams['ytick.color'] = '#333333'
plt.rcParams['xtick.labelcolor'] = '#222222'
plt.rcParams['ytick.labelcolor'] = '#222222'

fig = plt.figure(figsize=(W / 100, H / 100), dpi=100)
fig.patch.set_facecolor("white")

for (lab, curves, suffix, colors, xmax, xstep, ymax, ystep, box, leg), lpos in zip(PANELS, LABEL_POS):
    x0, y0, x1, y1 = box
    ax = fig.add_axes([x0 / W, 1 - y1 / H, (x1 - x0) / W, (y1 - y0) / H])

    frames = []
    for s, pts in zip(SAMPLES, curves):
        frames.append(pd.DataFrame({
            "Displacement": [p[0] for p in pts],
            "Force": [p[1] for p in pts],
            "Sample": s + suffix,
        }))
    df = pd.concat(frames, ignore_index=True)
    names = [s + suffix for s in SAMPLES]

    sns.lineplot(data=df, x="Displacement", y="Force", hue="Sample", hue_order=names,
                 palette=dict(zip(names, colors)), sort=False, estimator=None,
                 linewidth=1.2, ax=ax)

    ax.set_xlim(0, xmax)
    ax.set_ylim(0, ymax)
    ax.xaxis.set_major_locator(MultipleLocator(xstep))
    ax.yaxis.set_major_locator(MultipleLocator(ystep))
    ax.xaxis.set_minor_locator(AutoMinorLocator(2))
    ax.yaxis.set_minor_locator(AutoMinorLocator(2))
    ax.tick_params(which="major", length=3.5, width=0.9, labelsize=7.5, pad=2.5)
    ax.tick_params(which="minor", length=2, width=0.8)
    ax.set_xlabel("Displacement (mm)", fontsize=9.5, labelpad=8)
    ax.set_ylabel("Force (N)", fontsize=9.5, labelpad=9)
    sns.despine(ax=ax)

    handles, labels = ax.get_legend_handles_labels()
    ax.legend(handles, labels, loc="center left",
              bbox_to_anchor=(leg[0] / W, 1 - leg[1] / H), bbox_transform=fig.transFigure,
              frameon=False, borderpad=0, borderaxespad=0, handlelength=2.3,
              handletextpad=0.4, labelspacing=0.1,
              prop={"size": 9.5, "weight": "bold", "style": "italic"})

    fig.text(lpos[0] / W, 1 - lpos[1] / H, lab, fontsize=18, family="Liberation Serif",
             weight="normal", ha="left", va="center")

fig.savefig("out.png", dpi=100)
